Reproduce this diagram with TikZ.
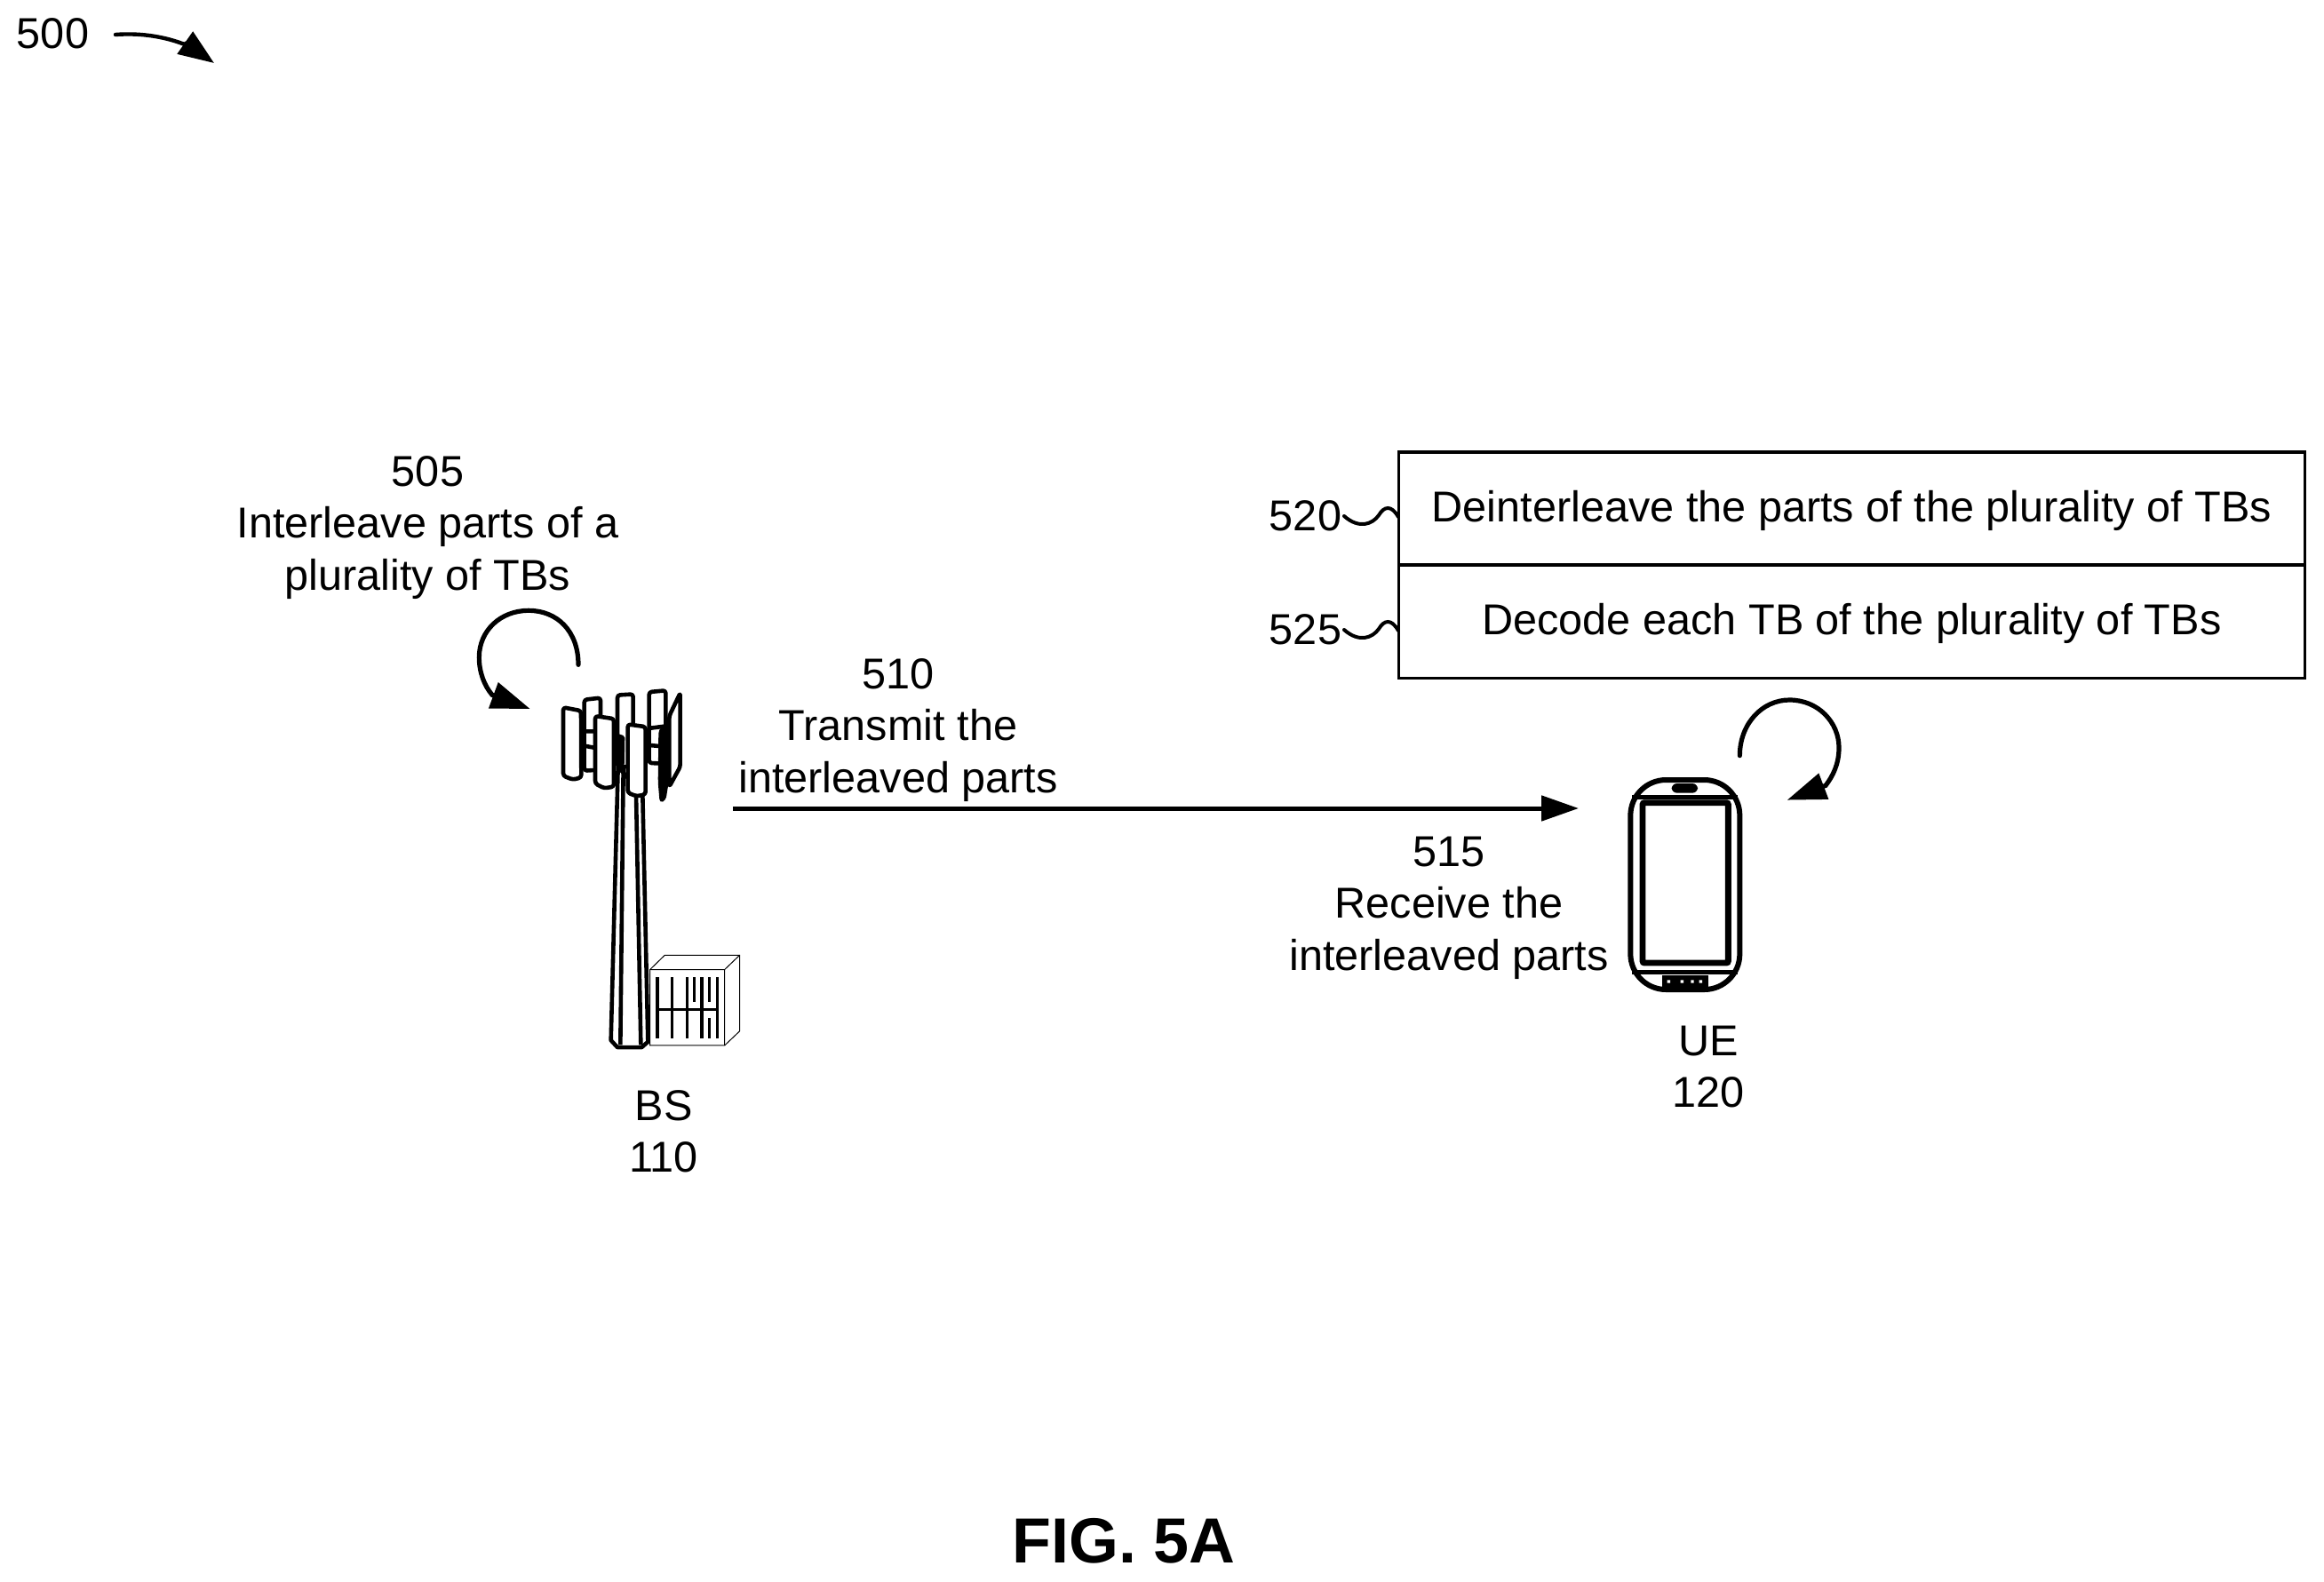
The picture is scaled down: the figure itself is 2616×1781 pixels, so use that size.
\documentclass[tikz,border=0pt]{standalone}
\usepackage{fontspec}
\setmainfont{Liberation Sans}
\usetikzlibrary{arrows.meta}
\tikzset{
  lbl/.style={font=\fontsize{24.3}{29.2}\selectfont,inner sep=0pt,align=center},
  boxcell/.style={lbl,draw,line width=1.7pt,minimum height=63.5pt,anchor=center},
  conn/.style={line width=2.6pt,line cap=round},
  squig/.style={line width=2pt,line cap=round},
  towerline/.style={line width=2.3pt,line join=round},
  panel/.style={towerline,fill=white,rounded corners=1.5pt},
  thin cab/.style={line width=0.5pt,fill=white},
  rack/.style={line width=1.7pt},
  phoneline/.style={line width=3pt}
}
\begin{document}
\begin{tikzpicture}[x=0.5pt,y=-0.5pt]
\useasboundingbox (0,0) rectangle (2616,1781);

% Figure reference
\node[lbl] (n500) at (59.5,38) {500};
\coordinate (a500s) at (130,39);
\coordinate (a500m) at (215.7,53.3);
\coordinate (a500e) at (241,71);
\draw[line width=2.2pt,line cap=round,-{Triangle[length=20pt,width=15pt]}] (a500s) .. controls (160,36.7) and (190,41.7) .. (a500m) -- (a500e);

% Labels
\node[lbl] (n505) at (481.5,594) {505\\Interleave parts of a\\plurality of TBs};
\node[lbl] (n510) at (1011,822) {510\\Transmit the\\interleaved parts};
\node[lbl] (n515) at (1631,1022) {515\\Receive the\\interleaved parts};
\node[lbl] (nbs) at (747,1273.5) {BS\\110};
\node[lbl] (nue) at (1923,1201) {UE\\120};
\node[font=\bfseries\fontsize{35.9}{42}\selectfont,inner sep=0pt] (nfig) at (1265,1735) {FIG. 5A};

% Boxes
\node[boxcell,minimum width=510pt] (b520) at (2084.5,572.5) {\raisebox{-1pt}[\height][\depth]{Deinterleave the parts of the plurality of TBs}};
\node[boxcell,minimum width=510pt] (b525) at (2084.5,700) {\raisebox{-1pt}[\height][\depth]{Decode each TB of the plurality of TBs}};
\node[lbl] (n520) at (1469.5,581) {520};
\node[lbl] (n525) at (1469.5,709) {525};
\coordinate (s520) at (1513,581);
\coordinate (s525) at (1513,709);
\draw[squig] (s520) .. controls (1530,596) and (1545,590) .. (1552,580) .. controls (1558,570) and (1566,568) .. (1574,582);
\draw[squig] (s525) .. controls (1530,724) and (1545,718) .. (1552,708) .. controls (1558,698) and (1566,696) .. (1574,710);

% Main arrow
\coordinate (txs) at (825,910);
\coordinate (rxe) at (1777,910);
\draw[line width=2.5pt,-{Triangle[length=21pt,width=14pt]}] (txs) -- (rxe);

% Self loop of the base station
\begin{scope}[shift={(520,660)},x=0.16667pt,y=-0.16667pt]
  \coordinate (l5s) at (393,265);
  \coordinate (l5e) at (230,414);
  \draw[conn,-{Triangle[length=22pt,width=15pt]}] (l5s) .. controls (393,150) and (320,82) .. (225,82)
     .. controls (130,82) and (58,150) .. (58,240) .. controls (58,290) and (75,335) .. (102,367) -- (l5e);
\end{scope}

% Base station, in a local frame
\begin{scope}[shift={(520,659)},x=0.16667pt,y=-0.173pt]
  % back panels
  \draw[panel] (413,372) -- (468,366) -- (468,600) -- (413,603) -- cycle;
  \draw[panel] (525,357) -- (578,354) -- (578,590) -- (525,590) -- cycle;
  \draw[panel] (632,347) -- (688,342) -- (688,580) -- (632,578) -- cycle;
  \draw[towerline] (413,475) -- (468,475) (413,522) -- (468,532) (632,465) -- (688,458) (632,520) -- (688,525);
  % side panel
  \draw[panel] (700,425) -- (737,350) -- (737,590) -- (700,655) -- cycle;
  \fill[rounded corners=2pt] (664,470) -- (700,440) -- (700,630) -- (688,700) -- (668,708) -- (662,640) -- cycle;
  % mast
  \draw[towerline,fill=white] (527,590) -- (503,1480) -- (525,1503) -- (607,1503) -- (628,1485) -- (610,680) -- cycle;
  \draw[towerline] (545,590) -- (535,1495) (588,680) -- (604,1495);
  \fill[rounded corners=1pt] (518,480) -- (550,490) -- (548,590) -- (525,600) -- cycle;
  % front panels
  \draw[panel] (342,397) -- (402,408) -- (403,625) -- (375,632) -- (342,620) -- cycle;
  \draw[panel] (450,425) -- (513,434) -- (513,655) -- (480,660) -- (450,645) -- cycle;
  \draw[panel] (560,452) -- (620,460) -- (620,680) -- (590,686) -- (560,675) -- cycle;
  % cabinet
  \draw[thin cab] (635,1250) -- (685,1203) -- (938,1203) -- (938,1450) -- (887,1497) -- (635,1497) -- cycle;
  \draw[thin cab] (635,1250) -- (887,1250) -- (887,1497) (887,1250) -- (938,1203);
  \draw[rack] (660,1275) -- (660,1475) (710,1275) -- (710,1475) (760,1275) -- (760,1475)
     (785,1275) -- (785,1355) (810,1275) -- (810,1475) (836,1275) -- (836,1355)
     (836,1408) -- (836,1475) (862,1275) -- (862,1475) (655,1380) -- (866,1380);
\end{scope}

% UE, in a local frame
\begin{scope}[shift={(1780,760)},x=0.16667pt,y=-0.16667pt]
  \coordinate (l15s) at (535,272);
  \coordinate (l15e) at (695,422);
  \draw[conn,-{Triangle[length=22pt,width=15pt]}] (l15s) .. controls (535,165) and (610,84) .. (703,84)
     .. controls (800,84) and (870,160) .. (870,245) .. controls (870,300) and (850,340) .. (825,373) -- (l15e);
  \draw[phoneline,rounded corners=20pt] (166,354) rectangle (535,1062);
  \draw[line width=2.5pt] (172,411) -- (528,411);
  \draw[line width=2.7pt] (172,1003) -- (528,1003);
  \draw[line width=3.4pt,rounded corners=1pt] (207,431) rectangle (496,972);
  \fill[rounded corners=3pt] (305,366) rectangle (393,398);
  \fill (272,1015) rectangle (428,1052);
  \fill[white] (290,1030) rectangle (300,1040) (335,1030) rectangle (345,1040) (370,1030) rectangle (380,1040) (398,1030) rectangle (408,1040);
\end{scope}
\end{tikzpicture}
\end{document}
